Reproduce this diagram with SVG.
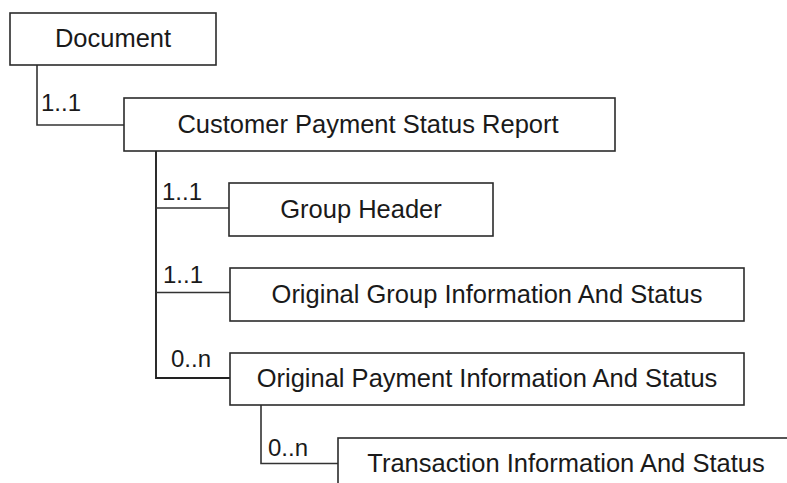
<svg xmlns="http://www.w3.org/2000/svg" width="787" height="483" viewBox="0 0 787 483">
<style>
.box{fill:#fff;stroke:#2b2b2b;stroke-width:1.6}
.lbl{font-family:"Liberation Sans",Arial,Helvetica,sans-serif;font-size:25.5px;fill:#1a1a1a;text-anchor:middle}
.card{font-family:"Liberation Sans",Arial,Helvetica,sans-serif;font-size:24px;fill:#1a1a1a}
.con{fill:none;stroke:#333;stroke-width:1.6}
</style>
<rect width="787" height="483" fill="#fff"/>
<g id="connectors">
<polyline class="con" points="37,65 37,125 124,125"/>
<polyline class="con" points="156,151 156,378 230,378" style="stroke-width:1.9;stroke:#222"/>
<line class="con" x1="156" y1="208" x2="229" y2="208"/>
<line class="con" x1="156" y1="292.5" x2="230" y2="292.5"/>
<polyline class="con" points="261,405 261,463.5 338,463.5"/>
<text class="card" x="41" y="111">1..1</text>
<text class="card" x="162" y="200">1..1</text>
<text class="card" x="163" y="283">1..1</text>
<text class="card" x="171" y="366.5">0..n</text>
<text class="card" x="268" y="455.5">0..n</text>
</g>
<g id="document">
<rect class="box" x="10" y="13" width="206" height="52"/>
<text class="lbl" x="113" y="47">Document</text>
</g>
<g id="customer-payment-status-report">
<rect class="box" x="124" y="98" width="491" height="53"/>
<text class="lbl" x="368" y="132.5">Customer Payment Status Report</text>
</g>
<g id="group-header">
<rect class="box" x="229" y="183" width="264" height="53"/>
<text class="lbl" x="361" y="217.5">Group Header</text>
</g>
<g id="original-group-information-and-status">
<rect class="box" x="230" y="268" width="514" height="53"/>
<text class="lbl" x="487" y="302.5">Original Group Information And Status</text>
</g>
<g id="original-payment-information-and-status">
<rect class="box" x="230" y="353" width="514" height="52"/>
<text class="lbl" x="487" y="387">Original Payment Information And Status</text>
</g>
<g id="transaction-information-and-status">
<rect class="box" x="338" y="438" width="460" height="53"/>
<text class="lbl" x="566" y="472">Transaction Information And Status</text>
</g>
</svg>
